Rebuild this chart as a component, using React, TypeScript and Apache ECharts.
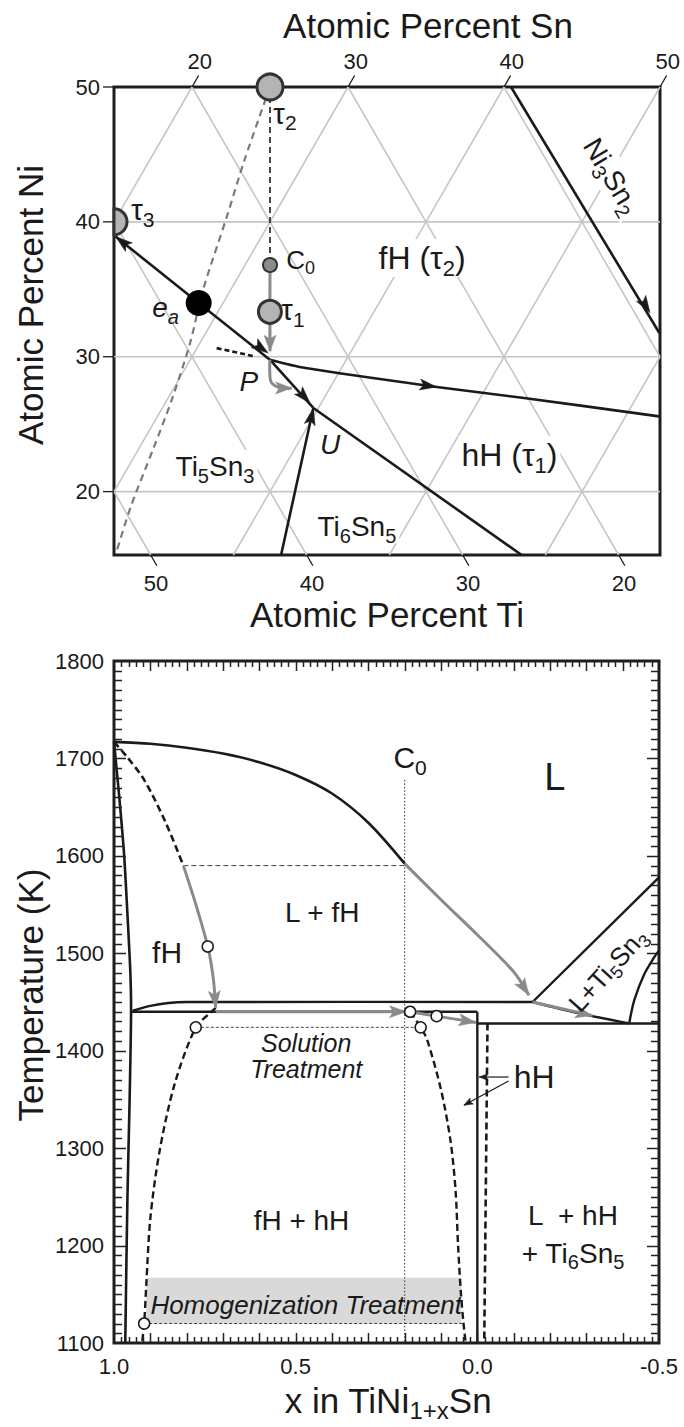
import React, { useEffect, useRef } from 'react';
import * as echarts from 'echarts';

type Pt = [number, number];
type Part = [string, number];

const INK = '#1a1a1a';
const GRAY = '#8a8a8a';
const GRID_GRAY = '#c6c6c6';
const NARROW = "'Liberation Sans Narrow', 'Arial Narrow', 'Liberation Sans', Arial, sans-serif";
const SANS = "'Liberation Sans', Arial, Helvetica, sans-serif";

// layout of the two plotting frames (pixels)
const TOP_BOX = { left: 114, top: 87, width: 546, height: 468 };
const BOT_BOX = { left: 114, top: 661, width: 545, height: 682 };

// ================= TOP PANEL (compositions [at.% Sn, at.% Ni]) =================
const NI_MIN = 15.3;
const NI_MAX = 50;
const X_MIN = 40; // Sn + Ni/2
const X_MAX = 75;
const snTicks = [20, 30, 40, 50];
const tiTicks = [50, 40, 30, 20];
const niTicks = [20, 30, 40, 50];
const niGridLevels = [20, 30, 40];
const snGridLevels = [10, 20, 30, 40, 50, 60, 70];
const tiGridLevels = [10, 20, 30, 40, 50, 60];

const tau1: Pt = [33.33, 33.33];
const tau2: Pt = [25, 50];
const tau3: Pt = [20, 40];
const c0Comp: Pt = [31.6, 36.8];
const eutecticA: Pt = [28.44, 33.98];
const pointP: Pt = [35.1, 29.78];
const pointU: Pt = [39.68, 26.2];

const valleyToTau3: Pt[] = [eutecticA, [20.65, 38.91]];
const valleyToP: Pt[] = [eutecticA, pointP];
const valleyPtoU: Pt[] = [pointP, pointU];
const valleyPtoRight: Pt[] = [pointP, [37.71, 29.16], [46.81, 27.76], [52.81, 26.94], [62.15, 25.58]];
const metastableP: Pt[] = [[31.26, 30.64], [34.03, 30.02]];
const valleyUtoBottom: Pt[] = [pointU, [58.48, 15.3]];
const valleyBottomToU: Pt[] = [[43.06, 15.3], pointU];
const ni3sn2Valley: Pt[] = [[40.45, 50], [59.08, 31.76]];
const tau2Tie: Pt[] = [tau2, [26.07, 44.59], [27.04, 40.39], [28.23, 34.96], [29.37, 31.01], [30.3, 26.8], [30.94, 23.11], [31.63, 18.91], [32.4, 15.5]];
const sectionLine: Pt[] = [tau2, c0Comp];
const solidifyPath: Pt[] = [c0Comp, tau1, [34.8, 30.4]];
const solidifyHook: Pt[] = [pointP, [35.73, 28.54], [36.08, 28.05], [36.8, 27.68], [37.55, 27.68]];

const blackArrows: [Pt, Pt][] = [
  [[20.65, 38.91], eutecticA],
  [[34.75, 30.27], eutecticA],
  [[39.28, 26.57], pointP],
  [pointU, [43.06, 15.3]],
  [[46.81, 27.76], [37.71, 29.16]],
  [[57.73, 33.26], [40.45, 50]],
];
const grayArrows: [Pt, Pt][] = [
  [[34.8, 30.4], tau1],
  [[37.55, 27.68], [36.8, 27.68]],
];

// ================= BOTTOM PANEL ([x in TiNi1+xSn, T in K]) =================
const tempRange = [1100, 1800];
const xRange = [-0.5, 1.0];
const xTickValues = [1.0, 0.5, 0.0, -0.5];
const xTickLabels = ['1.0', '0.5', '0.0', '-0.5'];

const liquidusUpper: Pt[] = [[1.0, 1717], [0.9, 1715], [0.8, 1711], [0.7, 1705], [0.6, 1696], [0.5, 1683], [0.4, 1664], [0.3, 1634], [0.2, 1592]];
const liquidusLower: Pt[] = [[0.2, 1592], [0.1, 1555], [0.0, 1519], [-0.1, 1481], [-0.142, 1457]];
const fhSolvusLeft: Pt[] = [[1.0, 1717], [0.993, 1690], [0.983, 1650], [0.972, 1600], [0.963, 1540], [0.955, 1480], [0.953, 1441], [0.957, 1350], [0.963, 1250], [0.969, 1100]];
const fhSolidusDashed: Pt[] = [[1.0, 1717], [0.965, 1702], [0.917, 1678], [0.86, 1636], [0.809, 1590]];
const fhSolidusGray: Pt[] = [[0.809, 1590], [0.773, 1548], [0.742, 1507], [0.727, 1475], [0.72, 1444]];
const peritecticUpper: Pt[] = [[0.948, 1441], [0.9, 1446], [0.85, 1449], [0.8, 1450], [-0.152, 1450]];
const peritecticLower: Pt[] = [[0.953, 1440], [0.0, 1440]];
const hhSolidus: Pt[] = [[0.0, 1440], [0.0, 1100]];
const hhRight: Pt[] = [[-0.028, 1428], [-0.019, 1100]];
const eutecticLine: Pt[] = [[0.0, 1428], [-0.5, 1428]];
const liquidusTail: Pt[] = [[-0.152, 1450], [-0.285, 1438], [-0.418, 1428]];
const ti5sn3Liquidus: Pt[] = [[-0.418, 1428], [-0.432, 1452], [-0.46, 1479], [-0.487, 1496], [-0.5, 1503]];
const ti5sn3Boundary: Pt[] = [[-0.152, 1450], [-0.5, 1578]];
const solvusLeft: Pt[] = [[0.72, 1444], [0.735, 1439], [0.775, 1424], [0.833, 1366], [0.875, 1296], [0.9, 1228], [0.911, 1161], [0.917, 1120], [0.923, 1100]];
const solvusRight: Pt[] = [[0.185, 1440], [0.156, 1424], [0.138, 1411], [0.1, 1360], [0.074, 1308], [0.06, 1257], [0.053, 1200], [0.045, 1150], [0.038, 1120], [0.032, 1100]];
const plateauArrow: Pt[] = [[0.72, 1440], [0.195, 1440]];
const c0Arrow: Pt[] = [[0.185, 1440], [0.112, 1435.5], [0.004, 1429]];
const tailArrow: Pt[] = [[-0.152, 1450], [-0.317, 1436]];
const c0Line: Pt[] = [[0.2, 1678], [0.2, 1100]];
const liquidusTie: Pt[] = [[0.809, 1590], [0.2, 1590]];
const solutionTie: Pt[] = [[0.775, 1424], [0.156, 1424]];
const homogTie: Pt[] = [[0.917, 1120], [0.04, 1120]];
const homogBand: Pt[] = [[0.911, 1167], [0.044, 1120]];
const markerPoints: Pt[] = [[0.742, 1507], [0.775, 1424], [0.185, 1440], [0.156, 1424], [0.112, 1435.5], [0.917, 1120]];
const hhPointers: [Pt, Pt][] = [[[-0.005, 1373], [-0.086, 1373]], [[0.037, 1344], [-0.086, 1369]]];
const TEMP_MINOR = 10; // K between frame ticks
const X_MINOR = 0.02; // composition step between frame ticks

// ================= helpers =================
function richStyles(F: number, S: number, family: string, italic: boolean, shift: number) {
  const L = Math.round(F * 1.2);
  const d = L / 2 + 0.35 * (F - S) + shift - S / 2;
  const fs = italic ? 'italic' : 'normal';
  return {
    n: { fontSize: F, fontFamily: family, fontStyle: fs, lineHeight: L, fill: INK },
    s: { fontSize: S, fontFamily: family, fontStyle: fs, lineHeight: L, verticalAlign: 'top', padding: [d, 0, 0, 0], fill: INK },
  };
}
function richText(parts: Part[]) {
  return parts.map(([t, s]) => `{${s ? 's' : 'n'}|${t}}`).join('');
}
function textEl(p: number[], parts: Part[], o: any = {}) {
  const F = o.size || 28;
  const S = o.sub || Math.round(F * 0.7);
  const rich: any = richStyles(F, S, o.family || NARROW, !!o.italic, o.shift ?? F * 0.22);
  const style: any = {
    text: richText(parts),
    rich,
    align: o.align || 'center',
    verticalAlign: 'middle',
    fill: INK,
    fontSize: F,
    fontFamily: o.family || NARROW,
  };
  if (o.bg) {
    style.backgroundColor = '#ffffff';
    style.padding = [0, 3];
  }
  return { type: 'text', x: p[0] + (o.dx || 0), y: p[1] + (o.dy || 0), rotation: o.rot || 0, style, z2: o.z2 || 20 };
}
function arrowHead(tip: number[], from: number[], len: number, half: number, color: string, z2 = 30) {
  const dx = tip[0] - from[0];
  const dy = tip[1] - from[1];
  const d = Math.hypot(dx, dy) || 1;
  const ux = dx / d;
  const uy = dy / d;
  const bx = tip[0] - ux * len;
  const by = tip[1] - uy * len;
  const nx = tip[0] - ux * len * 0.78;
  const ny = tip[1] - uy * len * 0.78;
  return {
    type: 'polygon',
    shape: { points: [tip, [bx - uy * half, by + ux * half], [nx, ny], [bx + uy * half, by - ux * half]] },
    style: { fill: color, stroke: color, lineWidth: 0.5 },
    z2,
  };
}
function seg(a: number[], b: number[], stroke: string, w: number, z2 = 5) {
  return { type: 'polyline', shape: { points: [[a[0], a[1]], [b[0], b[1]]] }, style: { stroke, lineWidth: w, fill: 'none' }, z2 };
}

// ================= top panel renderer =================
function renderTop(_params: any, api: any) {
  const P = (c: Pt | number[]) => api.coord([c[0] + c[1] / 2, c[1]]);
  const kids: any[] = [];
  const line = (pts: Pt[], stroke: string, w: number, dash?: number[], z2 = 10, smooth = 0) =>
    kids.push({ type: 'polyline', shape: { points: pts.map(P), smooth }, style: { stroke, lineWidth: w, fill: 'none', lineDash: dash || null }, z2 });

  niGridLevels.forEach((n) => line([[X_MIN - n / 2, n], [X_MAX - n / 2, n]], GRID_GRAY, 1.6, undefined, 1));
  snGridLevels.forEach((s) => {
    const lo = Math.max(NI_MIN, 2 * (X_MIN - s));
    const hi = Math.min(NI_MAX, 2 * (X_MAX - s));
    if (lo < hi) line([[s, lo], [s, hi]], GRID_GRAY, 1.6, undefined, 1);
  });
  tiGridLevels.forEach((t) => {
    const lo = Math.max(NI_MIN, 2 * (100 - t - X_MAX));
    const hi = Math.min(NI_MAX, 2 * (100 - t - X_MIN));
    if (lo < hi) line([[100 - t - lo, lo], [100 - t - hi, hi]], GRID_GRAY, 1.6, undefined, 1);
  });

  snTicks.forEach((s) => {
    const a = P([s, NI_MAX]);
    const b = P([s, NI_MAX + 0.85]);
    kids.push(seg(a, b, INK, 1.3));
    kids.push(textEl(b, [[String(s), 0]], { size: 22, dx: 1, dy: -14 }));
  });
  tiTicks.forEach((t) => {
    const sn = 100 - t - NI_MIN;
    const a = P([sn, NI_MIN]);
    const b = P([sn + 0.8, NI_MIN - 0.8]);
    kids.push(seg(a, b, INK, 1.3));
    kids.push(textEl(b, [[String(t), 0]], { size: 22, dx: -1, dy: 18 }));
  });
  niTicks.forEach((n) => {
    const a = P([X_MIN - n / 2, n]);
    kids.push(seg([a[0] - 11, a[1]], a, INK, 1.3));
    kids.push(textEl([a[0] - 14, a[1]], [[String(n), 0]], { size: 22, align: 'right' }));
  });

  kids.push(textEl(P([38.1, 37.33]), [['fH (τ', 0], ['2', 1], [')', 0]], { size: 32, align: 'left', bg: true, z2: 8 }));
  kids.push(textEl(P([50.71, 22.74]), [['hH (τ', 0], ['1', 1], [')', 0]], { size: 32, align: 'left', bg: true, z2: 8 }));
  kids.push(textEl(P([32.83, 21.85]), [['Ti', 0], ['5', 1], ['Sn', 0], ['3', 1]], { size: 28, align: 'left', bg: true, z2: 8 }));
  kids.push(textEl(P([44.15, 17.41]), [['Ti', 0], ['6', 1], ['Sn', 0], ['5', 1]], { size: 28, align: 'left', bg: true, z2: 8 }));
  kids.push(textEl(P([50.2, 43.4]), [['Ni', 0], ['3', 1], ['Sn', 0], ['2', 1]], { size: 28, rot: (-59 * Math.PI) / 180, bg: true, z2: 8 }));

  line(tau2Tie, '#7a7a7a', 2.2, [7, 5], 10, 0.3);
  line(sectionLine, INK, 1.6, [6, 4], 10);
  line(metastableP, INK, 2.6, [5, 3], 10);
  line(valleyToTau3, INK, 2.6);
  line(valleyToP, INK, 2.6);
  line(valleyPtoU, INK, 2.6);
  line(valleyPtoRight, INK, 2.6, undefined, 10, 0.3);
  line(valleyUtoBottom, INK, 2.6);
  line(valleyBottomToU, INK, 2.6);
  line(ni3sn2Valley, INK, 2.6);
  line(solidifyPath, GRAY, 3, undefined, 12);
  line(solidifyHook, GRAY, 3, undefined, 12, 0.4);
  blackArrows.forEach(([tip, from]) => kids.push(arrowHead(P(tip), P(from), 17, 5.5, INK)));
  grayArrows.forEach(([tip, from]) => kids.push(arrowHead(P(tip), P(from), 16, 6, GRAY)));

  const t2 = P(tau2);
  kids.push({ type: 'circle', shape: { cx: t2[0], cy: t2[1], r: 13 }, style: { fill: '#b4b4b4', stroke: '#333', lineWidth: 3 }, z2: 40 });
  const t3 = P(tau3);
  kids.push({ type: 'sector', shape: { cx: t3[0], cy: t3[1], r: 13, r0: 0, startAngle: -Math.PI / 2, endAngle: Math.PI / 2, clockwise: true }, style: { fill: '#b4b4b4', stroke: '#333', lineWidth: 3 }, z2: 40 });
  const t1 = P(tau1);
  kids.push({ type: 'circle', shape: { cx: t1[0], cy: t1[1], r: 11.5 }, style: { fill: '#b4b4b4', stroke: '#333', lineWidth: 3 }, z2: 40 });
  const c0 = P(c0Comp);
  kids.push({ type: 'circle', shape: { cx: c0[0], cy: c0[1], r: 7 }, style: { fill: '#8c8c8c', stroke: '#333', lineWidth: 2 }, z2: 40 });
  const ea = P(eutecticA);
  kids.push({ type: 'circle', shape: { cx: ea[0], cy: ea[1], r: 13 }, style: { fill: '#000' }, z2: 40 });

  kids.push(textEl(P([26.16, 48.07]), [['τ', 0], ['2', 1]], { size: 30, align: 'left', z2: 45 }));
  kids.push(textEl(P([20.64, 40.89]), [['τ', 0], ['3', 1]], { size: 30, align: 'left', z2: 45 }));
  kids.push(textEl(P([32.44, 37.19]), [['C', 0], ['0', 1]], { size: 26, align: 'left', z2: 45 }));
  kids.push(textEl(P([33.97, 33.48]), [['τ', 0], ['1', 1]], { size: 30, align: 'left', z2: 45 }));
  kids.push(textEl(P([27.35, 33.63]), [['e', 0], ['a', 1]], { size: 28, align: 'right', italic: true, z2: 45 }));
  kids.push(textEl(P([34.57, 28.15]), [['P', 0]], { size: 28, italic: true, z2: 45 }));
  kids.push(textEl(P([42.11, 23.48]), [['U', 0]], { size: 28, italic: true, z2: 45 }));

  return { type: 'group', children: kids };
}

// ================= bottom panel renderer =================
function renderBottom(_params: any, api: any) {
  const C = (p: Pt | number[]) => api.coord(p);
  const kids: any[] = [];
  const line = (pts: Pt[], stroke: string, w: number, dash?: number[], z2 = 10, smooth = 0) =>
    kids.push({ type: 'polyline', shape: { points: pts.map(C), smooth }, style: { stroke, lineWidth: w, fill: 'none', lineDash: dash || null }, z2 });

  const b0 = C(homogBand[0]);
  const b1 = C(homogBand[1]);
  kids.push({ type: 'rect', shape: { x: b0[0], y: b0[1], width: b1[0] - b0[0], height: b1[1] - b0[1] }, style: { fill: '#d9d9d9' }, z2: 2 });

  line(c0Line, '#333', 1, [1.5, 2], 4);
  line(liquidusTie, '#444', 1, [5, 3], 4);
  line(solutionTie, '#444', 1, [3, 2], 4);
  line(homogTie, '#444', 1, [3, 2], 4);

  line(liquidusUpper, INK, 2.6, undefined, 10, 0.3);
  line(fhSolvusLeft, INK, 2.6, undefined, 10, 0.3);
  line(fhSolidusDashed, INK, 2.6, [7, 4], 10, 0.3);
  line(peritecticUpper, INK, 2.4, undefined, 10, 0.2);
  line(peritecticLower, INK, 2.4);
  line(hhSolidus, INK, 2.4);
  line(hhRight, INK, 2.6, [7, 4]);
  line(eutecticLine, INK, 2.4);
  line(liquidusTail, INK, 2.4, undefined, 10, 0.3);
  line(ti5sn3Liquidus, INK, 2.4, undefined, 10, 0.3);
  line(ti5sn3Boundary, INK, 2.4);
  line(solvusLeft, INK, 2.4, [7, 4], 10, 0.3);
  line(solvusRight, INK, 2.4, [7, 4], 10, 0.3);

  const grayPaths = [liquidusLower, fhSolidusGray, plateauArrow, c0Arrow, tailArrow];
  grayPaths.forEach((g) => {
    line(g, GRAY, 3, undefined, 14, g.length > 2 ? 0.3 : 0);
    const pts = g.map(C);
    kids.push(arrowHead(pts[pts.length - 1], pts[pts.length - 2], 17, 6, GRAY, 16));
  });

  markerPoints.forEach((m) => {
    const c = C(m);
    kids.push({ type: 'circle', shape: { cx: c[0], cy: c[1], r: 5.5 }, style: { fill: '#fff', stroke: INK, lineWidth: 1.5 }, z2: 30 });
  });

  hhPointers.forEach(([tip, from]) => {
    const a = C(from);
    const b = C(tip);
    kids.push(seg(a, b, INK, 1.2, 20));
    kids.push(arrowHead(b, a, 9, 3.5, INK, 21));
  });

  kids.push(textEl(C([0.231, 1701]), [['C', 0], ['0', 1]], { size: 30, align: 'left' }));
  kids.push(textEl(C([-0.213, 1681]), [['L', 0]], { size: 38 }));
  kids.push(textEl(C([0.427, 1542]), [['L + fH', 0]], { size: 28 }));
  kids.push(textEl(C([0.854, 1501]), [['fH', 0]], { size: 30 }));
  kids.push(textEl(C([-0.359, 1483]), [['L+Ti', 0], ['5', 1], ['Sn', 0], ['3', 1]], { size: 26, rot: (48 * Math.PI) / 180 }));
  kids.push(textEl(C([0.471, 1408]), [['Solution', 0]], { size: 25, italic: true }));
  kids.push(textEl(C([0.471, 1381]), [['Treatment', 0]], { size: 25, italic: true }));
  kids.push(textEl(C([0.484, 1226]), [['fH + hH', 0]], { size: 28 }));
  kids.push(textEl(C([-0.263, 1231]), [['L  + hH', 0]], { size: 28 }));
  kids.push(textEl(C([-0.263, 1192]), [['+ Ti', 0], ['6', 1], ['Sn', 0], ['5', 1]], { size: 28 }));
  kids.push(textEl(C([-0.1, 1373]), [['hH', 0]], { size: 32, align: 'left' }));
  kids.push(textEl(C([0.471, 1139]), [['Homogenization Treatment', 0]], { size: 26, italic: true, z2: 25 }));

  return { type: 'group', children: kids };
}

// inward frame ticks of the lower panel (every 10 K and every 0.02 in x), as graphic lines
function frameTicks() {
  const els: any[] = [];
  const { left, top, width, height } = BOT_BOX;
  const right = left + width;
  const bottom = top + height;
  const st = { stroke: '#222', lineWidth: 1.5 };
  const nT = Math.round((tempRange[1] - tempRange[0]) / TEMP_MINOR);
  for (let i = 1; i < nT; i++) {
    const y = Math.round(top + (height * i) / nT) + 0.5;
    const len = i % 10 === 0 ? 12 : 8;
    els.push({ type: 'line', silent: true, z: 100, shape: { x1: left, y1: y, x2: left + len, y2: y }, style: st });
    els.push({ type: 'line', silent: true, z: 100, shape: { x1: right, y1: y, x2: right - len, y2: y }, style: st });
  }
  const nX = Math.round((xRange[1] - xRange[0]) / X_MINOR);
  for (let i = 1; i < nX; i++) {
    const x = Math.round(left + (width * i) / nX) + 0.5;
    const len = i % 5 === 0 ? 10 : 6;
    els.push({ type: 'line', silent: true, z: 100, shape: { x1: x, y1: top, x2: x, y2: top + len }, style: st });
    els.push({ type: 'line', silent: true, z: 100, shape: { x1: x, y1: bottom, x2: x, y2: bottom - len }, style: st });
  }
  return els;
}

function buildOption() {
  const xAxisBase = {
    gridIndex: 1,
    type: 'value',
    min: xRange[0],
    max: xRange[1],
    inverse: true,
    interval: 0.5,
    axisLine: { show: false, onZero: false },
    splitLine: { show: false },
    axisTick: { show: false },
  };
  const yAxisBase = {
    gridIndex: 1,
    type: 'value',
    min: tempRange[0],
    max: tempRange[1],
    interval: 100,
    axisLine: { show: false, onZero: false },
    splitLine: { show: false },
    axisTick: { show: false },
  };
  const titleStyle = { fontSize: 35, fontFamily: SANS, fill: INK, align: 'center', verticalAlign: 'middle' };
  return {
    animation: false,
    backgroundColor: '#ffffff',
    grid: [
      { ...TOP_BOX, show: true, borderColor: '#1e1e1e', borderWidth: 3, backgroundColor: 'transparent' },
      { ...BOT_BOX, show: true, borderColor: '#1e1e1e', borderWidth: 3, backgroundColor: 'transparent' },
    ],
    xAxis: [
      { gridIndex: 0, type: 'value', min: X_MIN, max: X_MAX, show: false },
      {
        ...xAxisBase,
        position: 'bottom',
        axisLabel: {
          show: true,
          margin: 12,
          fontSize: 22,
          fontFamily: NARROW,
          color: INK,
          formatter: (v: number) => {
            const i = xTickValues.findIndex((t) => Math.abs(t - v) < 1e-6);
            return i >= 0 ? xTickLabels[i] : '';
          },
        },
      },
    ],
    yAxis: [
      { gridIndex: 0, type: 'value', min: NI_MIN, max: NI_MAX, show: false },
      { ...yAxisBase, position: 'left', axisLabel: { show: true, margin: 10, fontSize: 22, fontFamily: NARROW, color: INK, formatter: (v: number) => String(v) } },
    ],
    series: [
      { type: 'custom', coordinateSystem: 'cartesian2d', xAxisIndex: 0, yAxisIndex: 0, clip: false, data: [[X_MIN, NI_MIN]], renderItem: renderTop, silent: true },
      { type: 'custom', coordinateSystem: 'cartesian2d', xAxisIndex: 1, yAxisIndex: 1, clip: false, data: [[0, 1100]], renderItem: renderBottom, silent: true },
    ],
    graphic: [
      ...frameTicks(),
      { type: 'text', x: 428, y: 25, style: { text: 'Atomic Percent Sn', ...titleStyle } },
      { type: 'text', x: 387, y: 614, style: { text: 'Atomic Percent Ti', ...titleStyle } },
      { type: 'text', x: 30, y: 305, rotation: Math.PI / 2, style: { text: 'Atomic Percent Ni', ...titleStyle } },
      { type: 'text', x: 30, y: 995, rotation: Math.PI / 2, style: { text: 'Temperature (K)', ...titleStyle } },
      {
        type: 'text',
        x: 388,
        y: 1400,
        style: {
          text: richText([['x in TiNi', 0], ['1+x', 1], ['Sn', 0]]),
          rich: richStyles(35, 24, SANS, false, 7),
          fill: INK,
          fontSize: 35,
          fontFamily: SANS,
          align: 'center',
          verticalAlign: 'middle',
        },
      },
    ],
  };
}

export default function App() {
  const ref = useRef<HTMLDivElement>(null);
  useEffect(() => {
    document.body.style.margin = '0';
    const chart = echarts.init(ref.current as HTMLDivElement, undefined, { renderer: 'svg' });
    chart.setOption(buildOption() as any);
    return () => chart.dispose();
  }, []);
  return <div ref={ref} style={{ position: 'absolute', left: 0, top: 0, width: 684, height: 1427, background: '#fff' }} />;
}
